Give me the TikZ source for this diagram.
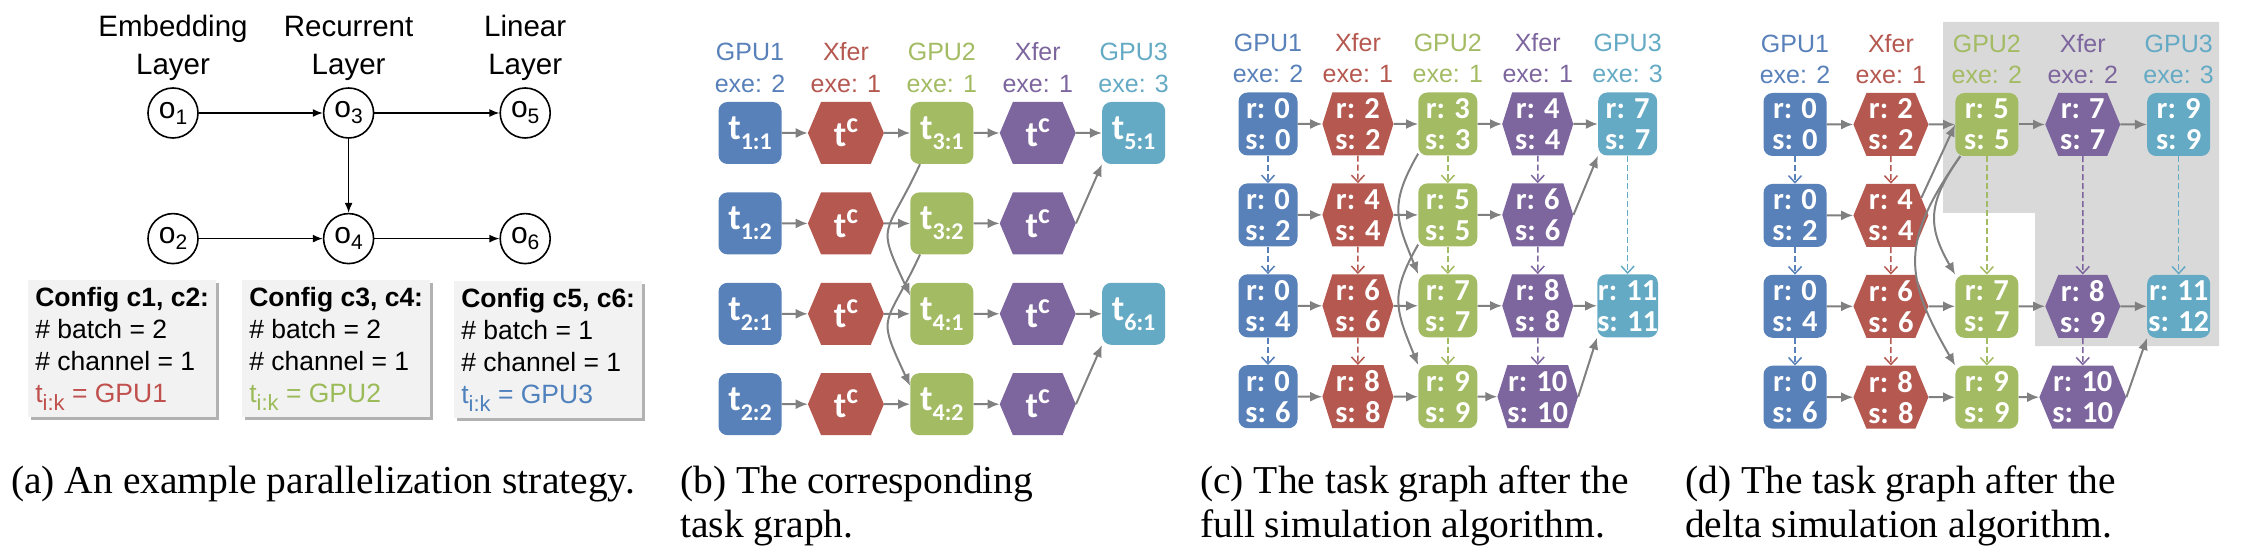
\documentclass[tikz,border=0pt]{standalone}
\usepackage{fontspec}
\setmainfont{Liberation Serif}
\newfontfamily\labelfont{Liberation Sans}
\newfontfamily\taskfont{Carlito}
\usepackage{graphicx}
\usepackage{xcolor}
\usetikzlibrary{positioning,arrows.meta,shapes.symbols,shadows}
\definecolor{cblue}{RGB}{88,128,185}
\definecolor{cred}{RGB}{180,88,80}
\definecolor{cgreen}{RGB}{163,187,99}
\definecolor{cpurple}{RGB}{125,101,158}
\definecolor{cteal}{RGB}{100,170,196}
\definecolor{flowgray}{RGB}{128,128,128}
\definecolor{regiongray}{RGB}{217,217,217}
\definecolor{boxgray}{RGB}{242,242,242}
\definecolor{cfgred}{RGB}{192,80,77}
\definecolor{cfggreen}{RGB}{155,187,89}
\definecolor{cfgblue}{RGB}{79,129,189}
\newcommand{\tsub}[1]{t\raisebox{-10pt}{\fontsize{24}{24}\selectfont #1}}
\newcommand{\tcomm}{t\raisebox{14pt}{\fontsize{28}{28}\selectfont c}}
\newcommand{\osub}[1]{o\raisebox{-6pt}{\fontsize{21}{21}\selectfont #1}}
\newcommand{\ik}{t\raisebox{-8pt}{\fontsize{22}{22}\selectfont i:k}}
\tikzset{>={Latex[width=10pt,length=12pt]}}
\tikzstyle{task-box}=[rectangle, rounded corners=9pt, inner sep=0pt, text=white, align=center, font=\taskfont\bfseries\fontsize{30.5}{31}\selectfont]
\tikzstyle{xfer-hex}=[signal, signal to=east and west, inner sep=0pt, text=white, align=center, font=\taskfont\bfseries\fontsize{30.5}{31}\selectfont]
\tikzstyle{b-box}=[task-box, minimum width=63pt, minimum height=62pt, font=\taskfont\bfseries\fontsize{36}{36}\selectfont]
\tikzstyle{b-hex}=[xfer-hex, minimum width=76pt, minimum height=62pt, signal pointer angle=134, font=\taskfont\bfseries\fontsize{36}{36}\selectfont]
\tikzstyle{c-box}=[task-box, minimum width=59pt, minimum height=63pt]
\tikzstyle{c-hex}=[xfer-hex, minimum width=71pt, minimum height=63pt, signal pointer angle=145]
\tikzstyle{d-box}=[task-box, minimum width=63pt, minimum height=63pt]
\tikzstyle{d-hex}=[xfer-hex, minimum width=75pt, minimum height=63pt, signal pointer angle=135]
\tikzstyle{flow}=[->, draw=flowgray, line width=2pt]
\tikzstyle{order}=[-{Straight Barb[length=7pt,width=13pt]}, line width=1.5pt, dash pattern=on 6pt off 3pt]
\tikzstyle{op}=[circle, draw, line width=1.6pt, minimum size=50pt, inner sep=0pt, font=\labelfont\fontsize{30}{30}\selectfont]
\tikzstyle{op-arrow}=[-{Latex[width=8pt,length=10pt]}, line width=1.5pt]
\tikzstyle{layer}=[anchor=base, inner sep=0pt, font=\labelfont\fontsize{29.5}{29.5}\selectfont]
\tikzstyle{head}=[anchor=base, inner sep=0pt, font=\labelfont\fontsize{25}{25}\selectfont]
\tikzstyle{config}=[anchor=north west, fill=boxgray, align=left, inner xsep=7pt, inner ysep=0pt, minimum width=188pt, minimum height=137pt, font=\labelfont\fontsize{26.5}{32}\selectfont, drop shadow={shadow xshift=3pt, shadow yshift=-3pt, fill=black, opacity=0.3}]
\tikzstyle{caption}=[anchor=base west, inner sep=0pt, font=\fontsize{39.5}{44}\selectfont]

\begin{document}
\begin{tikzpicture}[x=1pt, y=-1pt]
\useasboundingbox (0,0) rectangle (2248,556);

% region re-simulated in (d)
\fill[regiongray] (1943,22) -- (2219,22) -- (2219,346) -- (2035,346) -- (2035,213) -- (1943,213) -- cycle;

% (a) parallelization strategy
\node[op] (o1) at (173,113) {\osub{1}};
\node[op, right=124pt of o1] (o3) {\osub{3}};
\node[op, right=125pt of o3] (o5) {\osub{5}};
\node[op, below=74pt of o1] (o2) {\osub{2}};
\node[op] (o4) at (o3 |- o2) {\osub{4}};
\node[op] (o6) at (o5 |- o2) {\osub{6}};
\node[layer] (emb) at (o1 |- 0,37) {Embedding};
\node[layer] (embl) at (o1 |- 0,75) {Layer};
\node[layer] (rec) at (o3 |- 0,37) {Recurrent};
\node[layer] (recl) at (o3 |- 0,75) {Layer};
\node[layer] (lin) at (o5 |- 0,37) {Linear};
\node[layer] (linl) at (o5 |- 0,75) {Layer};
\path (o1) edge[op-arrow] (o3)
      (o3) edge[op-arrow] (o5)
      (o3) edge[op-arrow] (o4)
      (o2) edge[op-arrow] (o4)
      (o4) edge[op-arrow] (o6);

\node[config] (cfg12) at (28,280) {\textbf{Config c1, c2:}\\\# batch = 2\\\# channel = 1\\\textcolor{cfgred}{\ik{} = GPU1}};
\node[config] (cfg34) at (242,280) {\textbf{Config c3, c4:}\\\# batch = 2\\\# channel = 1\\\textcolor{cfggreen}{\ik{} = GPU2}};
\node[config] (cfg56) at (454,281) {\textbf{Config c5, c6:}\\\# batch = 1\\\# channel = 1\\\textcolor{cfgblue}{\ik{} = GPU3}};

% (b) task graph
\node[b-box, fill=cblue] (b11) at (750,133) {\tsub{1:1}};
\node[b-hex, fill=cred, right=26pt of b11] (b12) {\tcomm};
\node[b-box, fill=cgreen, right=26pt of b12] (b13) {\tsub{3:1}};
\node[b-hex, fill=cpurple, right=26pt of b13] (b14) {\tcomm};
\node[b-box, fill=cteal, right=26pt of b14] (b15) {\tsub{5:1}};
\node[b-box, fill=cblue, below=28pt of b11] (b21) {\tsub{1:2}};
\node[b-hex, fill=cred] (b22) at (b12 |- b21) {\tcomm};
\node[b-box, fill=cgreen] (b23) at (b13 |- b21) {\tsub{3:2}};
\node[b-hex, fill=cpurple] (b24) at (b14 |- b21) {\tcomm};
\node[b-box, fill=cblue, below=28pt of b21] (b31) {\tsub{2:1}};
\node[b-hex, fill=cred] (b32) at (b12 |- b31) {\tcomm};
\node[b-box, fill=cgreen] (b33) at (b13 |- b31) {\tsub{4:1}};
\node[b-hex, fill=cpurple] (b34) at (b14 |- b31) {\tcomm};
\node[b-box, fill=cteal] (b35) at (b15 |- b31) {\tsub{6:1}};
\node[b-box, fill=cblue, below=28pt of b31] (b41) {\tsub{2:2}};
\node[b-hex, fill=cred] (b42) at (b12 |- b41) {\tcomm};
\node[b-box, fill=cgreen] (b43) at (b13 |- b41) {\tsub{4:2}};
\node[b-hex, fill=cpurple] (b44) at (b14 |- b41) {\tcomm};

\node[head, text=cblue] (bexe1) at ([yshift=9pt]b11.north) {exe: 2};
\node[head, text=cblue] (bgpu1) at ([yshift=32pt]bexe1.base) {GPU1};
\node[head, text=cred] (bexe2) at ([yshift=9pt]b12.north) {exe: 1};
\node[head, text=cred] (bgpu2) at ([yshift=32pt]bexe2.base) {Xfer};
\node[head, text=cgreen] (bexe3) at ([yshift=9pt]b13.north) {exe: 1};
\node[head, text=cgreen] (bgpu3) at ([yshift=32pt]bexe3.base) {GPU2};
\node[head, text=cpurple] (bexe4) at ([yshift=9pt]b14.north) {exe: 1};
\node[head, text=cpurple] (bgpu4) at ([yshift=32pt]bexe4.base) {Xfer};
\node[head, text=cteal] (bexe5) at ([yshift=9pt]b15.north) {exe: 3};
\node[head, text=cteal] (bgpu5) at ([yshift=32pt]bexe5.base) {GPU3};

\path (b11) edge[flow] (b12) (b12) edge[flow] (b13) (b13) edge[flow] (b14) (b14) edge[flow] (b15)
      (b21) edge[flow] (b22) (b22) edge[flow] (b23) (b23) edge[flow] (b24) (b24.east) edge[flow] (b15.south west)
      (b31) edge[flow] (b32) (b32) edge[flow] (b33) (b33) edge[flow] (b34) (b34) edge[flow] (b35)
      (b41) edge[flow] (b42) (b42) edge[flow] (b43) (b43) edge[flow] (b44) (b44.east) edge[flow] (b35.south west)
      (b13.-125) edge[flow, out=245, in=115, looseness=1.6] (b33.150)
      (b23.-125) edge[flow, out=245, in=115, looseness=1.6] (b43.150);

% (c) full simulation
\node[c-box, fill=cblue] (c11) at (1268,124) {r: 0\\s: 0};
\node[c-hex, fill=cred, right=24.5pt of c11] (c12) {r: 2\\s: 2};
\node[c-box, fill=cgreen, right=24.5pt of c12] (c13) {r: 3\\s: 3};
\node[c-hex, fill=cpurple, right=24.5pt of c13] (c14) {r: 4\\s: 4};
\node[c-box, fill=cteal, right=24.5pt of c14] (c15) {r: 7\\s: 7};
\node[c-box, fill=cblue, below=27.5pt of c11] (c21) {r: 0\\s: 2};
\node[c-hex, fill=cred] (c22) at (c12 |- c21) {r: 4\\s: 4};
\node[c-box, fill=cgreen] (c23) at (c13 |- c21) {r: 5\\s: 5};
\node[c-hex, fill=cpurple] (c24) at (c14 |- c21) {r: 6\\s: 6};
\node[c-box, fill=cblue, below=27.5pt of c21] (c31) {r: 0\\s: 4};
\node[c-hex, fill=cred] (c32) at (c12 |- c31) {r: 6\\s: 6};
\node[c-box, fill=cgreen] (c33) at (c13 |- c31) {r: 7\\s: 7};
\node[c-hex, fill=cpurple] (c34) at (c14 |- c31) {r: 8\\s: 8};
\node[c-box, fill=cteal] (c35) at (c15 |- c31) {r: 11\\s: 11};
\node[c-box, fill=cblue, below=27.5pt of c31] (c41) {r: 0\\s: 6};
\node[c-hex, fill=cred] (c42) at (c12 |- c41) {r: 8\\s: 8};
\node[c-box, fill=cgreen] (c43) at (c13 |- c41) {r: 9\\s: 9};
\node[c-hex, fill=cpurple] (c44) at (c14 |- c41) {r: 10\\s: 10};

\node[head, text=cblue] (cexe1) at ([yshift=9.5pt]c11.north) {exe: 2};
\node[head, text=cblue] (cgpu1) at ([yshift=31pt]cexe1.base) {GPU1};
\node[head, text=cred] (cexe2) at ([yshift=9.5pt]c12.north) {exe: 1};
\node[head, text=cred] (cgpu2) at ([yshift=31pt]cexe2.base) {Xfer};
\node[head, text=cgreen] (cexe3) at ([yshift=9.5pt]c13.north) {exe: 1};
\node[head, text=cgreen] (cgpu3) at ([yshift=31pt]cexe3.base) {GPU2};
\node[head, text=cpurple] (cexe4) at ([yshift=9.5pt]c14.north) {exe: 1};
\node[head, text=cpurple] (cgpu4) at ([yshift=31pt]cexe4.base) {Xfer};
\node[head, text=cteal] (cexe5) at ([yshift=9.5pt]c15.north) {exe: 3};
\node[head, text=cteal] (cgpu5) at ([yshift=31pt]cexe5.base) {GPU3};

\path (c11) edge[flow] (c12) (c12) edge[flow] (c13) (c13) edge[flow] (c14) (c14) edge[flow] (c15)
      (c21) edge[flow] (c22) (c22) edge[flow] (c23) (c23) edge[flow] (c24) (c24.east) edge[flow] (c15.south west)
      (c31) edge[flow] (c32) (c32) edge[flow] (c33) (c33) edge[flow] (c34) (c34) edge[flow] (c35)
      (c41) edge[flow] (c42) (c42) edge[flow] (c43) (c43) edge[flow] (c44) (c44.east) edge[flow] (c35.south west)
      (c13.-135) edge[flow, out=240, in=112, looseness=1.25] (c33.north west)
      (c23.-135) edge[flow, out=240, in=112, looseness=1.25] (c43.north west);
\path (c11) edge[order, draw=cblue] (c21) (c21) edge[order, draw=cblue] (c31) (c31) edge[order, draw=cblue] (c41)
      (c12) edge[order, draw=cred] (c22) (c22) edge[order, draw=cred] (c32) (c32) edge[order, draw=cred] (c42)
      (c13) edge[order, draw=cgreen] (c23) (c23) edge[order, draw=cgreen] (c33) (c33) edge[order, draw=cgreen] (c43)
      (c14) edge[order, draw=cpurple] (c24) (c24) edge[order, draw=cpurple] (c34) (c34) edge[order, draw=cpurple] (c44)
      (c15) edge[order, draw=cteal] (c35);

% (d) delta simulation
\node[d-box, fill=cblue] (d11) at (1795,124.5) {r: 0\\s: 0};
\node[d-hex, fill=cred, right=26.5pt of d11] (d12) {r: 2\\s: 2};
\node[d-box, fill=cgreen, right=26.5pt of d12] (d13) {r: 5\\s: 5};
\node[d-hex, fill=cpurple, right=26.5pt of d13] (d14) {r: 7\\s: 7};
\node[d-box, fill=cteal, right=26.5pt of d14] (d15) {r: 9\\s: 9};
\node[d-box, fill=cblue, below=27.5pt of d11] (d21) {r: 0\\s: 2};
\node[d-hex, fill=cred] (d22) at (d12 |- d21) {r: 4\\s: 4};
\node[d-box, fill=cblue, below=27.5pt of d21] (d31) {r: 0\\s: 4};
\node[d-hex, fill=cred] (d32) at (d12 |- d31) {r: 6\\s: 6};
\node[d-box, fill=cgreen] (d33) at (d13 |- d31) {r: 7\\s: 7};
\node[d-hex, fill=cpurple] (d34) at (d14 |- d31) {r: 8\\s: 9};
\node[d-box, fill=cteal] (d35) at (d15 |- d31) {r: 11\\s: 12};
\node[d-box, fill=cblue, below=27.5pt of d31] (d41) {r: 0\\s: 6};
\node[d-hex, fill=cred] (d42) at (d12 |- d41) {r: 8\\s: 8};
\node[d-box, fill=cgreen] (d43) at (d13 |- d41) {r: 9\\s: 9};
\node[d-hex, fill=cpurple] (d44) at (d14 |- d41) {r: 10\\s: 10};

\node[head, text=cblue] (dexe1) at ([yshift=9.5pt]d11.north) {exe: 2};
\node[head, text=cblue] (dgpu1) at ([yshift=31pt]dexe1.base) {GPU1};
\node[head, text=cred] (dexe2) at ([yshift=9.5pt]d12.north) {exe: 1};
\node[head, text=cred] (dgpu2) at ([yshift=31pt]dexe2.base) {Xfer};
\node[head, text=cgreen] (dexe3) at ([yshift=9.5pt]d13.north) {exe: 2};
\node[head, text=cgreen] (dgpu3) at ([yshift=31pt]dexe3.base) {GPU2};
\node[head, text=cpurple] (dexe4) at ([yshift=9.5pt]d14.north) {exe: 2};
\node[head, text=cpurple] (dgpu4) at ([yshift=31pt]dexe4.base) {Xfer};
\node[head, text=cteal] (dexe5) at ([yshift=9.5pt]d15.north) {exe: 3};
\node[head, text=cteal] (dgpu5) at ([yshift=31pt]dexe5.base) {GPU3};

\path (d11) edge[flow] (d12) (d12) edge[flow] (d13) (d13) edge[flow] (d14) (d14) edge[flow] (d15)
      (d21) edge[flow] (d22) (d22.30) edge[flow] (d13.west)
      (d31) edge[flow] (d32) (d32) edge[flow] (d33) (d33) edge[flow] (d34) (d34) edge[flow] (d35)
      (d41) edge[flow] (d42) (d42) edge[flow] (d43) (d43) edge[flow] (d44) (d44.east) edge[flow] (d35.south west)
      (d13.-130) edge[flow, out=235, in=120, looseness=1.22] (d33.north west)
      (d13.-130) edge[flow, out=235, in=120, looseness=1.27] (d43.north west);
\path (d11) edge[order, draw=cblue] (d21) (d21) edge[order, draw=cblue] (d31) (d31) edge[order, draw=cblue] (d41)
      (d12) edge[order, draw=cred] (d22) (d22) edge[order, draw=cred] (d32) (d32) edge[order, draw=cred] (d42)
      (d13) edge[order, draw=cgreen] (d33) (d33) edge[order, draw=cgreen] (d43)
      (d14) edge[order, draw=cpurple] (d34) (d34) edge[order, draw=cpurple] (d44)
      (d15) edge[order, draw=cteal] (d35);

% captions
\node[caption] (capa) at (11,493) {(a) An example parallelization strategy.};
\node[caption] (capb1) at (680,493) {(b) The corresponding};
\node[caption] (capb2) at (680,537) {task graph.};
\node[caption] (capc1) at (1200,493) {(c) The task graph after the};
\node[caption] (capc2) at (1200,537) {full simulation algorithm.};
\node[caption] (capd1) at (1685,493) {(d) The task graph after the};
\node[caption] (capd2) at (1685,537) {delta simulation algorithm.};
\end{tikzpicture}
\end{document}
